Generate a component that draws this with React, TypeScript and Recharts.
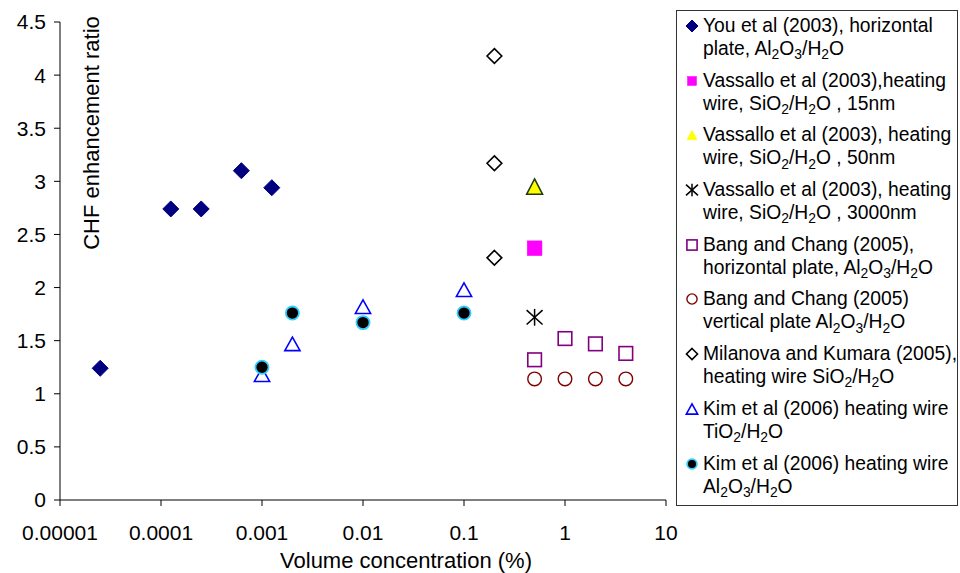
import React from 'react';
import { ScatterChart, Scatter, XAxis, YAxis, Legend } from 'recharts';

// ---- data ----
const xTicks = [0.00001, 0.0001, 0.001, 0.01, 0.1, 1, 10];
const xTickLabels = ['0.00001', '0.0001', '0.001', '0.01', '0.1', '1', '10'];
const yTicks = [0, 0.5, 1, 1.5, 2, 2.5, 3, 3.5, 4, 4.5];
const yTickLabels = ['0', '0.5', '1', '1.5', '2', '2.5', '3', '3.5', '4', '4.5'];

const youX = [0.000025, 0.000125, 0.00025, 0.000625, 0.00125];
const youY = [1.24, 2.74, 2.74, 3.1, 2.94];
const vas15X = [0.5];
const vas15Y = [2.37];
const vas50X = [0.5];
const vas50Y = [2.95];
const vas3000X = [0.5];
const vas3000Y = [1.72];
const bangHX = [0.5, 1, 2, 4];
const bangHY = [1.32, 1.52, 1.47, 1.38];
const bangVX = [0.5, 1, 2, 4];
const bangVY = [1.14, 1.14, 1.14, 1.14];
const milX = [0.2, 0.2, 0.2];
const milY = [4.18, 3.17, 2.28];
const kimTiX = [0.001, 0.002, 0.01, 0.1];
const kimTiY = [1.18, 1.47, 1.82, 1.98];
const kimAlX = [0.001, 0.002, 0.01, 0.1];
const kimAlY = [1.25, 1.76, 1.67, 1.76];

const seriesNames = [
  ['You et al (2003), horizontal', 'plate, Al2O3/H2O'],
  ['Vassallo et al (2003),heating', 'wire, SiO2/H2O , 15nm'],
  ['Vassallo et al (2003), heating', 'wire, SiO2/H2O , 50nm'],
  ['Vassallo et al (2003), heating', 'wire, SiO2/H2O , 3000nm'],
  ['Bang and Chang (2005),', 'horizontal plate, Al2O3/H2O'],
  ['Bang and Chang (2005)', 'vertical plate Al2O3/H2O'],
  ['Milanova and Kumara (2005),', 'heating wire SiO2/H2O'],
  ['Kim et al (2006) heating wire', 'TiO2/H2O'],
  ['Kim et al (2006) heating wire', 'Al2O3/H2O'],
];

const toPoints = (xs: number[], ys: number[]) => xs.map((x, i) => ({ x, y: ys[i] }));

const FONT = '"Liberation Sans", Arial, sans-serif';

// ---- marker shapes ----
type Kind = 'diamondFill' | 'square' | 'triFill' | 'star' | 'squareOpen' | 'circleOpen' | 'diamondOpen' | 'triOpen' | 'circleFill';

function marker(kind: Kind, cx: number, cy: number, s: number, legend = false) {
  switch (kind) {
    case 'diamondFill': {
      const r = s;
      return <path d={`M${cx},${cy - r}L${cx + r},${cy}L${cx},${cy + r}L${cx - r},${cy}Z`} fill="#000080" stroke="#000080" strokeWidth={1} />;
    }
    case 'square': {
      const r = s * (legend ? 0.75 : 0.92);
      return <rect x={cx - r} y={cy - r} width={2 * r} height={2 * r} fill="#FF00FF" stroke="#FF00FF" strokeWidth={0.5} />;
    }
    case 'triFill': {
      const w = s * (legend ? 0.85 : 1), h = s * (legend ? 0.8 : 0.96);
      return <path d={`M${cx},${cy - h}L${cx + w},${cy + h}L${cx - w},${cy + h}Z`} fill="#FFFF00" stroke={legend ? '#FFFF00' : '#1F3A10'} strokeWidth={legend ? 0.5 : 1.5} strokeLinejoin="miter" />;
    }
    case 'star': {
      const r = s * 1.05;
      return (
        <g stroke="#000" strokeWidth={1.5}>
          <line x1={cx} y1={cy - r} x2={cx} y2={cy + r} />
          <line x1={cx - r * 0.95} y1={cy - r * 0.85} x2={cx + r * 0.95} y2={cy + r * 0.85} />
          <line x1={cx - r * 0.95} y1={cy + r * 0.85} x2={cx + r * 0.95} y2={cy - r * 0.85} />
        </g>
      );
    }
    case 'squareOpen': {
      const r = s * 0.85;
      return <rect x={cx - r} y={cy - r} width={2 * r} height={2 * r} fill="none" stroke="#800080" strokeWidth={1.6} />;
    }
    case 'circleOpen': {
      return <circle cx={cx} cy={cy} r={s * 0.85} fill="none" stroke="#800000" strokeWidth={1.4} />;
    }
    case 'diamondOpen': {
      const r = s * 0.92;
      return <path d={`M${cx},${cy - r}L${cx + r},${cy}L${cx},${cy + r}L${cx - r},${cy}Z`} fill="#fff" stroke="#000" strokeWidth={1.6} />;
    }
    case 'triOpen': {
      const w = s * 0.95, h = s * 0.85;
      return <path d={`M${cx},${cy - h}L${cx + w},${cy + h}L${cx - w},${cy + h}Z`} fill="none" stroke="#0000FF" strokeWidth={1.6} />;
    }
    case 'circleFill': {
      return <circle cx={cx} cy={cy} r={s * 0.82} fill="#000" stroke="#33CCFF" strokeWidth={1.8} />;
    }
  }
  return null;
}

const kinds: Kind[] = ['diamondFill', 'square', 'triFill', 'star', 'squareOpen', 'circleOpen', 'diamondOpen', 'triOpen', 'circleFill'];

const seriesData = [
  toPoints(youX, youY),
  toPoints(vas15X, vas15Y),
  toPoints(vas50X, vas50Y),
  toPoints(vas3000X, vas3000Y),
  toPoints(bangHX, bangHY),
  toPoints(bangVX, bangVY),
  toPoints(milX, milY),
  toPoints(kimTiX, kimTiY),
  toPoints(kimAlX, kimAlY),
];

// chemical formula formatting: digit right after a letter -> subscript
function formatText(t: string) {
  const out: React.ReactNode[] = [];
  let buf = '';
  for (let i = 0; i < t.length; i++) {
    const c = t[i];
    if (/[0-9]/.test(c) && i > 0 && /[A-Za-z]/.test(t[i - 1])) {
      if (buf) out.push(buf);
      buf = '';
      out.push(
        <span key={i} style={{ fontSize: '0.72em', position: 'relative', top: '0.3em' }}>
          {c}
        </span>
      );
    } else {
      buf += c;
    }
  }
  if (buf) out.push(buf);
  return out;
}

const LegendContent = () => (
  <div
    style={{
      width: '100%',
      height: '100%',
      boxSizing: 'border-box',
      border: '1px solid #333',
      background: '#fff',
      fontFamily: FONT,
      fontSize: 19.3,
      color: '#000',
      paddingTop: 3,
    }}
  >
    {seriesNames.map((lines, i) => (
      <div key={i} style={{ position: 'relative', height: 54.7 }}>
        <svg width={20} height={24} style={{ position: 'absolute', left: 5, top: 0 }}>
          {marker(kinds[i], 10, 12, 6, true)}
        </svg>
        <div style={{ position: 'absolute', left: 26, top: 0, lineHeight: '23px', whiteSpace: 'nowrap' }}>
          <div>{formatText(lines[0])}</div>
          <div>{formatText(lines[1])}</div>
        </div>
      </div>
    ))}
  </div>
);

const XLabel = (props: any) => {
  const vb = props.viewBox;
  return (
    <text x={vb.x + vb.width / 2 + 43} y={568} textAnchor="middle" fontSize={22} fontFamily={FONT} fill="#000">
      Volume concentration (%)
    </text>
  );
};

const YLabel = (props: any) => {
  const vb = props.viewBox;
  const x = vb.x + vb.width + 31;
  const y = vb.y + 111;
  return (
    <text x={x} y={y} transform={`rotate(-90, ${x}, ${y})`} textAnchor="middle" dominantBaseline="central" fontSize={22} fontFamily={FONT} fill="#000">
      CHF enhancement ratio
    </text>
  );
};

export default function App() {
  return (
    <div style={{ position: 'absolute', left: 0, top: 0, width: 960, height: 573, background: '#fff' }}>
      <ScatterChart width={960} height={573} margin={{ top: 22, right: 294, bottom: 0, left: 0 }} style={{ fontFamily: FONT }}>
        <XAxis
          type="number"
          dataKey="x"
          scale="log"
          domain={[0.00001, 10]}
          allowDataOverflow
          ticks={xTicks}
          tickFormatter={(v: number) => xTickLabels[xTicks.indexOf(v)] ?? String(v)}
          height={73}
          tickSize={6}
          tickMargin={19}
          stroke="#000"
          tick={{ fill: '#000', fontSize: 21, fontFamily: FONT }}
          label={<XLabel />}
        />
        <YAxis
          type="number"
          dataKey="y"
          domain={[0, 4.5]}
          ticks={yTicks}
          tickFormatter={(v: number) => yTickLabels[yTicks.indexOf(v)] ?? String(v)}
          width={60}
          tickSize={6}
          tickMargin={8}
          stroke="#000"
          tick={{ fill: '#000', fontSize: 21, fontFamily: FONT }}
          label={<YLabel />}
        />
        {seriesData.map((d, i) => (
          <Scatter
            key={i}
            name={seriesNames[i].join(' ')}
            data={d}
            isAnimationActive={false}
            shape={(p: any) => marker(kinds[i], p.cx, p.cy, 8)}
          />
        ))}
        <Legend
          layout="vertical"
          align="center"
          verticalAlign="middle"
          wrapperStyle={{ left: 676, top: 10, width: 282, height: 496 }}
          content={<LegendContent />}
        />
      </ScatterChart>
    </div>
  );
}
